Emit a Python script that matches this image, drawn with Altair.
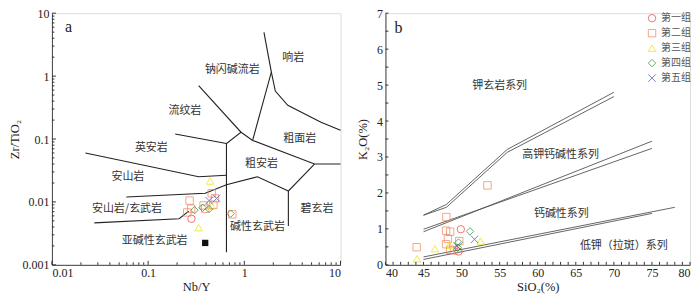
import altair as alt
import pandas as pd

# ---------------- shared group definitions ----------------
groups = ["第一组", "第二组", "第三组", "第四组", "第五组"]
group_shapes = ["circle", "square", "triangle-up", "diamond", "M-1,-1L1,1M-1,1L1,-1"]
group_colors = ["#EE3B3B", "#F0825C", "#E8E400", "#2E8B2E", "#3A4DA6"]

# ---------------- panel a: Zr/TiO2 vs Nb/Y ----------------
a_group = ["第一组",
           "第二组", "第二组", "第二组", "第二组", "第二组", "第二组", "第二组", "第二组", "第二组",
           "第三组", "第三组", "第三组",
           "第四组", "第四组", "第四组", "第四组",
           "第五组", "第五组"]
a_nby = [0.282,
         0.27, 0.28, 0.255, 0.458, 0.495, 0.477, 0.392, 0.75, 0.377,
         0.44, 0.335, 0.458,
         0.303, 0.368, 0.43, 0.72,
         0.43, 0.515]
a_zrti = [0.0054,
          0.0105, 0.0078, 0.0068, 0.0137, 0.0114, 0.0090, 0.0078, 0.00635, 0.0088,
          0.0215, 0.0039, 0.0086,
          0.0074, 0.0081, 0.0077, 0.0065,
          0.0105, 0.0114]
a_ref_nby = [0.392]
a_ref_zrti = [0.00223]

# field boundaries (Winchester & Floyd)
a_bounds = [
    [(1.60, 4.97), (1.91, 1.16), (1.22, 0.095)],
    [(1.91, 1.16), (2.10, 0.58), (2.83, 0.343), (6.27, 0.185), (10.0, 0.138)],
    [(0.335, 0.705), (0.925, 0.128), (0.652, 0.085), (0.652, 0.00159)],
    [(0.925, 0.128), (1.22, 0.095), (5.36, 0.040), (10.0, 0.040)],
    [(5.36, 0.040), (2.87, 0.0149), (2.87, 0.00413)],
    [(0.191, 0.1205), (0.652, 0.085)],
    [(0.0223, 0.060), (0.335, 0.0251), (0.652, 0.0266)],
    [(0.0593, 0.0120), (0.392, 0.0137), (0.652, 0.01875), (1.37, 0.0251), (2.87, 0.0149)],
    [(0.0276, 0.00464), (0.21, 0.0054), (0.265, 0.00714)],
]
a_labels = ["响岩", "钠闪碱流岩", "流纹岩", "粗面岩", "英安岩", "粗安岩", "安山岩",
            "安山岩/玄武岩", "碧玄岩", "碱性玄武岩", "亚碱性玄武岩"]
a_label_x = [3.22, 0.75, 0.241, 3.77, 0.108, 1.51, 0.0616, 0.0603, 5.7, 1.37, 0.117]
a_label_y = [1.96, 1.26, 0.278, 0.101, 0.073, 0.040, 0.0251, 0.00765, 0.00783, 0.0040, 0.00239]
a_xticks = [0.01, 0.1, 1, 10]
a_yticks = [0.001, 0.01, 0.1, 1, 10]

# ---------------- panel b: K2O vs SiO2 ----------------
b_group = ["第一组", "第一组",
           "第二组", "第二组", "第二组", "第二组", "第二组", "第二组", "第二组", "第二组", "第二组", "第二组",
           "第三组", "第三组", "第三组", "第三组",
           "第四组", "第四组", "第四组",
           "第五组", "第五组"]
b_sio2 = [49.9, 49.6,
          44.1, 48.0, 47.96, 48.5, 47.96, 49.7, 48.5, 53.4, 48.2, 49.0,
          44.15, 46.5, 52.5, 48.4,
          51.1, 49.6, 49.5,
          51.7, 49.4]
b_k2o = [0.99, 0.37,
         0.49, 1.33, 0.95, 0.92, 0.575, 0.66, 0.42, 2.21, 0.72, 0.40,
         0.17, 0.45, 0.66, 0.55,
         0.93, 0.62, 0.48,
         0.71, 0.52]
b_bounds = [
    [(45, 1.38), (48, 1.68), (56, 3.21), (70, 4.80)],
    [(45, 1.38), (48, 1.60), (56, 3.13), (70, 4.68)],
    [(45, 0.99), (75, 3.24)],
    [(45, 0.92), (75, 3.44)],
    [(45, 0.22), (78, 1.60)],
    [(45, 0.15), (75, 1.43)],
]
b_labels = ["钾玄岩系列", "高钾钙碱性系列", "钙碱性系列", "低钾（拉斑）系列"]
b_label_x = [55.0, 63.0, 63.1, 71.3]
b_label_y = [4.98, 3.05, 1.41, 0.52]
b_xticks = [40, 45, 50, 55, 60, 65, 70, 75, 80]
b_yticks = [0, 1, 2, 3, 4, 5, 6, 7]

# ---------------- layout / style ----------------
WA, WB, H = 289, 305, 252
SERIF = "Liberation Serif"
CJK = "Noto Sans CJK SC"
TICK = "#333333"


def bounds_df(segs):
    rows = []
    for i, seg in enumerate(segs):
        for j, (x, y) in enumerate(seg):
            rows.append({"x": x, "y": y, "seg": i, "o": j})
    return pd.DataFrame(rows)


def axis(title, values, fmt, label_pad, title_pad):
    return alt.Axis(title=title, values=values, format=fmt, ticks=False, grid=False,
                    domainColor="#444444", labelFont=SERIF, labelFontSize=12,
                    labelColor="#222222", titleFont=SERIF, titleFontSize=12.5,
                    titleFontWeight="normal", titleColor="#222222",
                    labelPadding=label_pad, titlePadding=title_pad)


# ---- panel a ----
xs_a = alt.Scale(type="log", domain=[0.01, 10], nice=False)
ys_a = alt.Scale(type="log", domain=[0.001, 10], nice=False)
ax_xa = axis("Nb/Y", a_xticks, "~g", 3, 2)
ax_ya = axis("Zr/TiO₂", a_yticks, "~g", 3, 0)
XA = alt.X("x:Q", scale=xs_a, axis=ax_xa)
YA = alt.Y("y:Q", scale=ys_a, axis=ax_ya)

a_lines = alt.Chart(bounds_df(a_bounds)).mark_line(color="#222222", strokeWidth=1.1).encode(
    x=XA, y=YA, detail="seg:N", order="o:Q")
a_text = alt.Chart(pd.DataFrame({"x": a_label_x, "y": a_label_y, "t": a_labels})).mark_text(
    font=CJK, fontSize=11, color="#333333").encode(x=XA, y=YA, text="t:N")
a_pts = alt.Chart(pd.DataFrame({"x": a_nby, "y": a_zrti, "g": a_group})).mark_point(
    filled=False, size=55, strokeWidth=1).encode(
    x=XA, y=YA,
    shape=alt.Shape("g:N", scale=alt.Scale(domain=groups, range=group_shapes), legend=None),
    color=alt.Color("g:N", scale=alt.Scale(domain=groups, range=group_colors), legend=None))
a_ref = alt.Chart(pd.DataFrame({"x": a_ref_nby, "y": a_ref_zrti})).mark_point(
    shape="square", filled=True, color="#111111", size=40, opacity=1).encode(x=XA, y=YA)
a_letter = alt.Chart(pd.DataFrame({"x": [0.0149], "y": [6.1], "t": ["a"]})).mark_text(
    font=SERIF, fontSize=16, color="#222222").encode(x=XA, y=YA, text="t:N")

a_xmaj = a_xticks
a_xmin = [k * d for d in [0.01, 0.1, 1] for k in range(2, 10)]
a_ymaj = a_yticks
a_ymin = [k * d for d in [0.001, 0.01, 0.1, 1] for k in range(2, 10)]


def xrules(vals, length, scale, ax):
    return alt.Chart(pd.DataFrame({"x": vals})).mark_rule(color=TICK, strokeWidth=1).encode(
        x=alt.X("x:Q", scale=scale, axis=ax), y=alt.value(H), y2=alt.value(H - length))


def yrules(vals, length, scale, ax):
    return alt.Chart(pd.DataFrame({"y": vals})).mark_rule(color=TICK, strokeWidth=1).encode(
        y=alt.Y("y:Q", scale=scale, axis=ax), x=alt.value(0), x2=alt.value(length))


panel_a = alt.layer(
    a_lines, a_text, a_pts, a_ref, a_letter,
    xrules(a_xmaj, 4, xs_a, ax_xa), xrules(a_xmin, 2.5, xs_a, ax_xa),
    yrules(a_ymaj, 4, ys_a, ax_ya), yrules(a_ymin, 2.5, ys_a, ax_ya),
).properties(width=WA, height=H)

# ---- panel b ----
xs_b = alt.Scale(domain=[40, 80], nice=False, zero=False)
ys_b = alt.Scale(domain=[0, 7], nice=False)
ax_xb = axis("SiO₂(%)", b_xticks, "d", 3, 2)
ax_yb = axis("K₂O(%)", b_yticks, "d", 3, 7)
XB = alt.X("x:Q", scale=xs_b, axis=ax_xb)
YB = alt.Y("y:Q", scale=ys_b, axis=ax_yb)

b_lines = alt.Chart(bounds_df(b_bounds)).mark_line(color="#555555", strokeWidth=0.9).encode(
    x=XB, y=YB, detail="seg:N", order="o:Q")
b_text = alt.Chart(pd.DataFrame({"x": b_label_x, "y": b_label_y, "t": b_labels})).mark_text(
    font=CJK, fontSize=11, color="#333333").encode(x=XB, y=YB, text="t:N")
b_pts = alt.Chart(pd.DataFrame({"x": b_sio2, "y": b_k2o, "g": b_group})).mark_point(
    filled=False, size=55, strokeWidth=1).encode(
    x=XB, y=YB,
    shape=alt.Shape("g:N", scale=alt.Scale(domain=groups, range=group_shapes),
                    legend=alt.Legend(title=None, orient="none", legendX=262, legendY=0,
                                      labelFont=CJK, labelFontSize=10, labelColor="#555555",
                                      symbolSize=55, symbolStrokeWidth=1, rowPadding=3,
                                      padding=0, labelOffset=4)),
    color=alt.Color("g:N", scale=alt.Scale(domain=groups, range=group_colors)))
b_letter = alt.Chart(pd.DataFrame({"x": [41.7], "y": [6.6], "t": ["b"]})).mark_text(
    font=SERIF, fontSize=16, color="#222222").encode(x=XB, y=YB, text="t:N")

b_xmin = list(range(40, 81))
b_ymin = [i * 0.5 for i in range(0, 15)]

panel_b = alt.layer(
    b_lines, b_text, b_pts, b_letter,
    xrules(b_xmin, 3, xs_b, ax_xb),
    yrules(b_ymin, 3, ys_b, ax_yb),
).properties(width=WB, height=H)

chart = alt.hconcat(panel_a, panel_b, spacing=12).resolve_scale(
    color="independent", shape="independent").resolve_legend(
    color="independent", shape="independent").properties(
    padding={"left": 0, "top": -2, "right": 0, "bottom": 0}).configure_view(
    stroke="#444444", strokeWidth=1).configure(background="white")

chart.save("out.html", embed_options={"renderer": "svg", "actions": False})
